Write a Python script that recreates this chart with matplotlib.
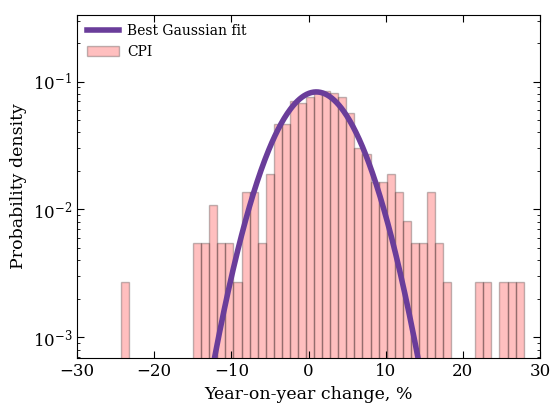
import numpy as np
import matplotlib
matplotlib.use('Agg')
import matplotlib.pyplot as plt

plt.rcParams['font.family'] = 'DejaVu Serif'
plt.rcParams['mathtext.fontset'] = 'dejavuserif'

# Histogram of year-on-year CPI change: 50 bins between the data min and max
bin_lo, bin_hi = -24.35, 27.87
counts = [1, 0, 0, 0, 0, 0, 0, 0, 0, 2,
          2, 4, 2, 2, 1, 5, 5, 2, 7, 17,
          17, 26, 25, 28, 30, 31, 30, 28, 21, 11,
          10, 6, 6, 7, 5, 3, 2, 2, 5, 2,
          1, 0, 0, 0, 1, 1, 0, 1, 1, 1]

# Best Gaussian fit parameters (amplitude, mean, sigma)
fit_amp, fit_mu, fit_sigma = 0.083, 1.0, 4.26

edges = np.linspace(bin_lo, bin_hi, len(counts) + 1)
centers = 0.5 * (edges[:-1] + edges[1:])

fig = plt.figure(figsize=(5.5, 4.05), dpi=100)
ax = fig.add_axes([0.14, 0.115, 0.842, 0.849])

xs = np.linspace(-30, 30, 600)
ys = fit_amp * np.exp(-(xs - fit_mu) ** 2 / (2 * fit_sigma ** 2))
ax.plot(xs, ys, color='#6a3d9a', lw=4, label='Best Gaussian fit', zorder=3)

ax.hist(centers, bins=edges, weights=counts, density=True,
        color='r', alpha=0.25, edgecolor='k', linewidth=1.0, label='CPI')

ax.set_yscale('log')
ax.set_xlim(-30, 30)
ax.set_ylim(6.85e-4, 0.334)
ax.set_xticks([-30, -20, -10, 0, 10, 20, 30])
ax.tick_params(which='both', direction='in', top=True, right=True, labelsize=12)
ax.tick_params(which='major', length=5)
ax.tick_params(which='minor', length=2.5)

ax.set_xlabel('Year-on-year change, %', fontsize=12.5)
ax.set_ylabel('Probability density', fontsize=12.5)

ax.legend(loc='upper left', frameon=False, fontsize=10, handlelength=2.3,
          handletextpad=0.6, borderaxespad=0.3, labelspacing=0.45)

fig.savefig('out.png', dpi=100)
